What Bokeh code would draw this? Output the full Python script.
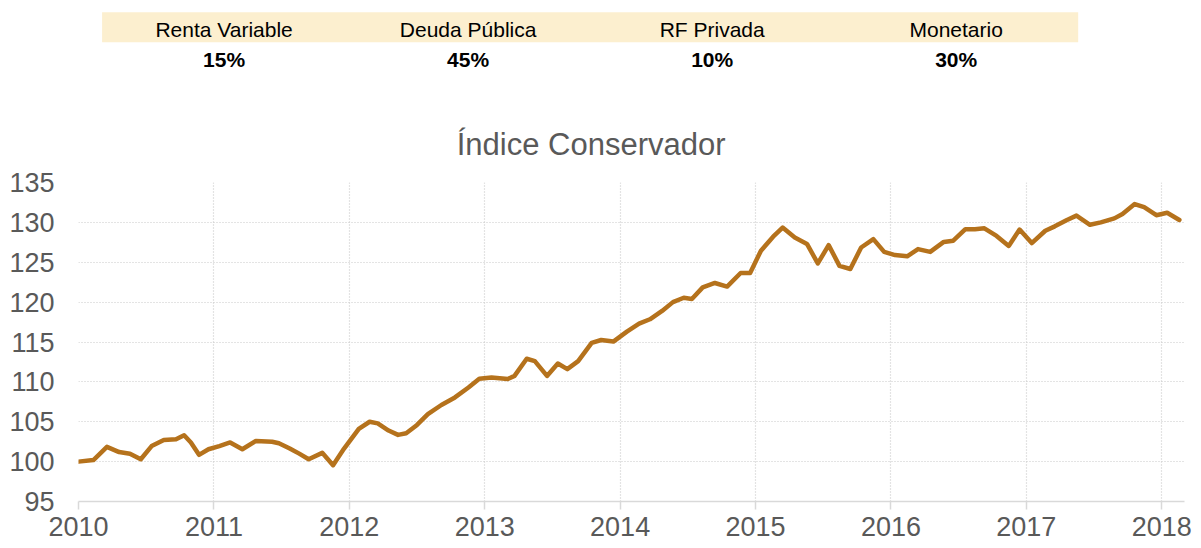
from bokeh.plotting import figure
from bokeh.layouts import column
from bokeh.models import Range1d, FixedTicker, ColumnDataSource
from bokeh.core.properties import value
from bokeh.embed import file_html
from bokeh.resources import INLINE

# ---------------- data ----------------
categories = ["Renta Variable", "Deuda Pública", "RF Privada", "Monetario"]
weights = ["15%", "45%", "10%", "30%"]
title_text = "Índice Conservador"

years = [
    2010.00, 2010.11, 2010.21, 2010.30, 2010.38, 2010.46, 2010.54, 2010.63, 2010.72, 2010.78,
    2010.83, 2010.89, 2010.96, 2011.04, 2011.12, 2011.21, 2011.31, 2011.43, 2011.48, 2011.56,
    2011.63, 2011.70, 2011.80, 2011.88, 2011.96, 2012.07, 2012.15, 2012.21, 2012.29, 2012.36,
    2012.42, 2012.50, 2012.58, 2012.68, 2012.78, 2012.88, 2012.96, 2013.05, 2013.17, 2013.22,
    2013.31, 2013.37, 2013.46, 2013.54, 2013.61, 2013.69, 2013.79, 2013.86, 2013.95, 2014.05,
    2014.14, 2014.22, 2014.31, 2014.39, 2014.47, 2014.53, 2014.61, 2014.70, 2014.79, 2014.89,
    2014.96, 2015.04, 2015.13, 2015.20, 2015.29, 2015.38, 2015.46, 2015.54, 2015.62, 2015.70,
    2015.78, 2015.87, 2015.95, 2016.03, 2016.12, 2016.20, 2016.29, 2016.39, 2016.46, 2016.55,
    2016.62, 2016.69, 2016.78, 2016.87, 2016.95, 2017.04, 2017.14, 2017.21, 2017.30, 2017.37,
    2017.47, 2017.55, 2017.65, 2017.71, 2017.80, 2017.87, 2017.96, 2018.04, 2018.13,
]
index_values = [
    100.0, 100.2, 101.85, 101.2, 101.0, 100.3, 101.95, 102.7, 102.8, 103.3,
    102.4, 100.85, 101.55, 101.95, 102.4, 101.55, 102.6, 102.5, 102.3, 101.65,
    101.0, 100.3, 101.1, 99.55, 101.6, 104.1, 105.0, 104.8, 103.9, 103.35,
    103.55, 104.6, 105.95, 107.1, 108.05, 109.3, 110.4, 110.55, 110.35, 110.75,
    112.9, 112.6, 110.75, 112.3, 111.6, 112.6, 114.9, 115.25, 115.05, 116.3,
    117.3, 117.85, 118.9, 120.0, 120.55, 120.4, 121.85, 122.4, 121.95, 123.65,
    123.65, 126.45, 128.2, 129.35, 128.1, 127.3, 124.85, 127.15, 124.55, 124.15,
    126.85, 127.9, 126.3, 125.9, 125.75, 126.65, 126.3, 127.55, 127.7, 129.15,
    129.15, 129.25, 128.3, 127.05, 129.1, 127.4, 128.95, 129.5, 130.3, 130.85,
    129.7, 130.0, 130.5, 131.05, 132.3, 131.9, 130.9, 131.2, 130.3,
]
x_ticks = [2010, 2011, 2012, 2013, 2014, 2015, 2016, 2017, 2018]
x_tick_labels = ["2010", "2011", "2012", "2013", "2014", "2015", "2016", "2017", "2018"]
y_ticks = [95, 100, 105, 110, 115, 120, 125, 130, 135]

# ---------------- style / layout ----------------
FONT = "Liberation Sans"
GRAY = "#595959"
LINE = "#B5721C"
BAND = "#FCEFCF"
GRID = "#C8C8C8"

W = 1195
H_HDR, H_MAIN = 168, 378
B_L, B_R = 78, 11

# ---------------- header (allocation table + title) ----------------
hdr = figure(width=W, height=H_HDR,
             x_range=Range1d(78.4, 1184.3), y_range=Range1d(169, 1),
             output_backend="svg", toolbar_location=None,
             x_axis_type=None, y_axis_type=None,
             min_border_left=B_L, min_border_right=B_R, min_border_top=0, min_border_bottom=0)
hdr.outline_line_color = None
hdr.xgrid.visible = False
hdr.ygrid.visible = False

band_left, band_right = 102, 1078
band_top, band_bottom = 12.7, 42.7
hdr.quad(left=[band_left], right=[band_right], top=[band_top], bottom=[band_bottom],
         fill_color=BAND, line_color=None)
col_w = (band_right - band_left) / len(categories)
centers = [band_left + col_w * (i + 0.5) for i in range(len(categories))]
src = ColumnDataSource(dict(x=centers, cat=categories, w=weights))
hdr.text(x="x", y=30.2, text="cat", source=src, text_font=value(FONT),
         text_font_size="21px", text_color="#000000", text_align="center",
         text_baseline="alphabetic")
hdr.text(x="x", y=60.2, text="w", source=src, text_font=value(FONT),
         text_font_size="21px", text_font_style="bold", text_color="#000000",
         text_align="center", text_baseline="alphabetic")
hdr.text(x=[591], y=[145], text=[title_text], text_font=value(FONT),
         text_font_size="31px", text_color=GRAY, text_align="center",
         text_baseline="alphabetic")

# ---------------- main chart ----------------
p = figure(width=W, height=H_MAIN, x_range=Range1d(2010, 2018.168), y_range=Range1d(95, 135),
           output_backend="svg", toolbar_location=None,
           min_border_left=B_L, min_border_right=B_R, min_border_top=14, min_border_bottom=45)
p.outline_line_color = None

p.line(years, index_values, line_color=LINE, line_width=4.5,
       line_join="round", line_cap="round")

p.xaxis.ticker = FixedTicker(ticks=x_ticks)
p.xaxis.major_label_overrides = {t: s for t, s in zip(x_ticks, x_tick_labels)}
p.xaxis.axis_line_color = "#D9D9D9"
p.xaxis.axis_line_width = 1.5
p.xaxis.major_tick_line_color = "#D9D9D9"
p.xaxis.major_tick_line_width = 1.5
p.xaxis.major_tick_out = 8
p.xaxis.major_tick_in = 0
p.xaxis.minor_tick_line_color = None
p.xaxis.major_label_standoff = 7

p.yaxis.ticker = FixedTicker(ticks=y_ticks)
p.yaxis.axis_line_color = None
p.yaxis.major_tick_line_color = None
p.yaxis.major_tick_out = 0
p.yaxis.major_tick_in = 0
p.yaxis.minor_tick_line_color = None
p.yaxis.major_label_standoff = 24

for ax in (p.xaxis, p.yaxis):
    ax.major_label_text_font = FONT
    ax.major_label_text_font_size = "27px"
    ax.major_label_text_color = GRAY

p.xgrid.ticker = FixedTicker(ticks=x_ticks)
p.ygrid.ticker = FixedTicker(ticks=y_ticks)
for g in (p.xgrid, p.ygrid):
    g.grid_line_color = GRID
    g.grid_line_dash = "1 2"
    g.grid_line_width = 1.2

layout = column(hdr, p)
open("out.html", "w").write(file_html(layout, INLINE))
